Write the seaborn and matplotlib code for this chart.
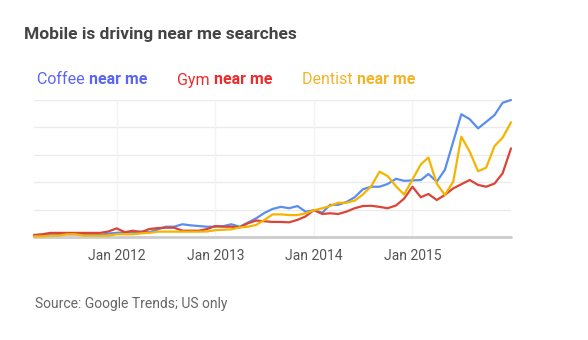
import matplotlib
matplotlib.use("Agg")
import matplotlib.pyplot as plt
import seaborn as sns
import pandas as pd
import numpy as np

months = pd.date_range("2011-03-01", periods=59, freq="MS")

coffee = [1, 1, 2, 2, 2, 2, 2, 1.5, 1.5, 2.5,
          3, 3.5, 3.6, 4, 3.5, 5.5, 7.5, 7.5, 9.3, 8.5,
          8, 7.5, 7.5, 8, 9.3, 7.5, 10.5, 13.6, 17.5, 20.5,
          22, 21, 22.6, 18.5, 19.5, 17.7, 23.4, 23.5, 25.5, 29,
          34.8, 36.7, 36.7, 38.7, 42.5, 41, 41.3, 41.6, 46, 40.4,
          49, 69.6, 89.6, 86, 79.3, 84, 89, 98, 100]
gym = [1.5, 2, 3, 3, 3, 3, 3, 3, 3, 4,
       6.3, 3.5, 4.6, 3.5, 5.8, 6.5, 6.8, 6.8, 4.6, 4.6,
       4.6, 5.8, 8, 7.5, 7.5, 7, 10, 12, 11.5, 11,
       11, 10.7, 12.5, 15, 19.7, 16.8, 17.3, 16.8, 18.5, 21,
       22.6, 22.8, 22, 21, 23, 28, 36.7, 29, 31.4, 27,
       30.7, 35.5, 38.5, 41.6, 38, 36.7, 39, 46.5, 64.7]
dentist = [0.5, 0.5, 1, 1, 2, 2, 1, 1, 1, 1,
           2, 2, 2, 2.7, 3, 3.9, 3.9, 3.9, 3.9, 3.9,
           3.9, 4, 5, 5.3, 5.6, 7, 7.5, 8.8, 12.4, 16.5,
           16.5, 16, 16, 17.3, 19.5, 21, 22.6, 25, 25, 26.5,
           31, 37, 47.7, 44.5, 37, 31, 42, 53, 58, 39,
           30.7, 40.4, 73.2, 62.3, 48, 50.6, 66.4, 72.5, 83.7]

series_names = ["Coffee near me", "Gym near me", "Dentist near me"]
line_colors = ["#5B8DEF", "#DB4437", "#F4B400"]
text_colors = ["#5A66F2", "#EE2B2B", "#F2B52A"]
xtick_labels = ["Jan 2012", "Jan 2013", "Jan 2014", "Jan 2015"]
xtick_dates = pd.to_datetime(["2012-01-01", "2013-01-01", "2014-01-01", "2015-01-01"])

df = pd.DataFrame({
    "month": np.concatenate([months] * 3),
    "value": np.concatenate([coffee, gym, dentist]),
    "series": np.repeat(series_names, len(months)),
})

sns.set_style("white")
plt.rcParams["font.family"] = ["Roboto", "DejaVu Sans"]

fig = plt.figure(figsize=(5.88, 3.40), dpi=100)
W, H = 588, 340
ax = fig.add_axes([34 / W, 1 - 237 / H, (511 - 34) / W, (237 - 100) / H])

sns.lineplot(data=df, x="month", y="value", hue="series", hue_order=series_names,
             palette=line_colors, linewidth=1.6, legend=False, ax=ax, clip_on=False, zorder=3)

ax.set_xlim(months[0], months[-1])
ax.set_ylim(0, 100)
ax.set_yticks([0, 20, 40, 60, 80, 100])
ax.set_yticklabels([])
ax.tick_params(axis="y", length=0)
ax.set_xticks(xtick_dates)
ax.set_xticklabels(xtick_labels, fontsize=10, color="#555555")
ax.tick_params(axis="x", length=0, pad=9)
ax.set_xlabel("")
ax.set_ylabel("")

for v in [20, 40, 60, 80, 100]:
    ax.axhline(v, color="#EBEBEB", linewidth=1, zorder=1)
for d in xtick_dates:
    ax.axvline(d, color="#F3F3F3", linewidth=1, zorder=1)
ax.axhline(0, color="#CCCCCC", linewidth=2, zorder=2, clip_on=False)

for s in ax.spines.values():
    s.set_visible(False)

fig.text(24 / W, 1 - 34 / H, "Mobile is driving near me searches", fontsize=12.5,
         fontweight="bold", color="#444444", va="center", ha="left")

renderer = fig.canvas.get_renderer()
legend_x = [37, 177, 302]
for name, col, lx in zip(series_names, text_colors, legend_x):
    first, rest = name.split(" ", 1)
    t1 = fig.text(lx / W, 1 - 80 / H, first + " ", fontsize=11.5, fontweight="normal",
                  color=col, va="center", ha="left")
    bb = t1.get_window_extent(renderer)
    fig.text(bb.x1 / W, 1 - 80 / H, rest, fontsize=11.5, fontweight="bold",
             color=col, va="center", ha="left")

fig.text(35 / W, 1 - 304 / H, "Source: Google Trends; US only", fontsize=10,
         color="#666666", va="center", ha="left")

fig.savefig("out.png", dpi=100)
